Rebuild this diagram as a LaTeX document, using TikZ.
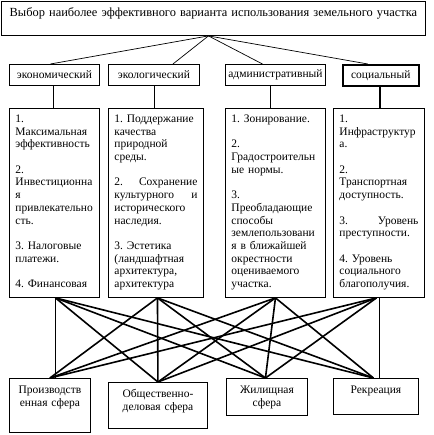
\documentclass[tikz,border=0pt]{standalone}
\usepackage{fontspec}
\setmainfont{Liberation Serif}

\begin{document}
\begin{tikzpicture}[x=1pt, y=-1pt,
        box/.style={draw, line width=0.9pt, inner sep=0pt, anchor=north west, font=\fontsize{11.5}{12.7}\selectfont\frenchspacing},
        kind/.style={box, minimum height=21pt, align=center},
        cell/.style={box, align=left, inner xsep=6pt, text height=14pt, text depth=175pt},
        sphere/.style={box, align=center, text height=15pt},
        link/.style={line width=1.6pt},
        wire/.style={line width=0.7pt}]
    \useasboundingbox (0,0) rectangle (433,435);

    % Goal
    \node[box, text width=424pt, align=center, text height=15pt, text depth=19pt,
        font=\fontsize{12.4}{14}\selectfont] (goal) at (1,1)
        {Выбор наиболее эффективного варианта использования земельного участка};
    \coordinate (hub) at ([xshift=-5pt]goal.south);

    % Aspects
    \node[kind, minimum width=90pt] (c1) at (9,64) {экономический};
    \node[kind, minimum width=91pt] (c2) at (108,64) {экологический};
    \node[kind, minimum width=100pt] (c3) at (225,64) {административный};
    \node[kind, minimum width=76pt, line width=1.6pt] (c4) at (342,64) {социальный};

    \draw[wire] (hub) -- ([xshift=-4pt]c1.north);
    \draw[wire] (hub) -- ([xshift=19pt]c2.north);
    \draw[wire] (hub) -- ([xshift=-13pt]c3.north);
    \draw[wire] (hub) -- ([xshift=-13pt]c4.north);

    % Criteria
    \node[cell, text width=78pt] (d1) at (9,108)
        {1.\\ Максимальная\\ эффективность\\[12.7pt]
         2.\\ Инвестиционна\\ я\\ привлекательно\\ сть.\\[12.7pt]
         3. Налоговые\\ платежи.\\[12.7pt]
         4. Финансовая};
    \node[cell, text width=83pt] (d2) at (108,108)
        {1. Поддержание\\ качества\\ природной\\ среды.\\[12.7pt]
         2.\hfill Сохранение\\ культурного\hfill и\\ исторического\\ наследия.\\[12.7pt]
         3. Эстетика\\ (ландшафтная\\ архитектура,\\ архитектура};
    \node[cell, text width=88pt] (d3) at (225,108)
        {1. Зонирование.\\[12.7pt]
         2.\\ Градостроительн\\ ые нормы.\\[12.7pt]
         3.\\ Преобладающие\\ способы\\ землепользовани\\ я в ближайшей\\ окрестности\\ оцениваемого\\ участка.};
    \node[cell, text width=79pt] (d4) at (333,108)
        {1.\\ Инфраструктур\\ а.\\[12.7pt]
         2.\\ Транспортная\\ доступность.\\[12.7pt]
         3.\hfill Уровень\\ преступности.\\[12.7pt]
         4. Уровень\\ социального\\ благополучия.};

    \foreach \k/\lw/\dx in {1/0.7pt/-1pt, 2/0.7pt/0pt, 3/0.7pt/-5pt, 4/1.6pt/-1pt}
        \draw[line width=\lw] ([xshift=\dx]c\k.south) -- ([xshift=\dx]c\k.south |- d\k.north);

    % Spheres
    \node[sphere, text width=81pt, text depth=39pt] (b1) at (9,378) {Производств\\енная сфера};
    \node[sphere, text width=99pt, text depth=31pt] (b2) at (108,382) {Общественно-\\деловая сфера};
    \node[sphere, text width=81pt, text depth=22pt] (b3) at (226,378) {Жилищная\\сфера};
    \node[sphere, text width=85pt, text depth=21pt] (b4) at (333,378) {Рекреация};

    \coordinate (o1) at ([xshift=1pt]d1.south);
    \coordinate (o2) at ([xshift=1.5pt]d2.south);
    \coordinate (o3) at (d3.south);
    \coordinate (o4) at ([xshift=-2.5pt]d4.south);
    \coordinate (t1) at (b1.north);
    \coordinate (t2) at (b2.north);
    \coordinate (t3) at ([xshift=-1.5pt]b3.north);
    \coordinate (t4) at ([xshift=-2.5pt]b4.north);

    \draw[wire] (o1) -- (o1 |- b1.north);
    \draw[wire] (d4.south) -- (d4.south |- b4.north);
    \foreach \i/\j in {1/2, 1/3, 1/4, 2/1, 2/2, 2/3, 2/4, 3/1, 3/2, 3/3, 3/4, 4/1, 4/2, 4/3}
        \draw[link] (o\i) -- (t\j);
\end{tikzpicture}
\end{document}
